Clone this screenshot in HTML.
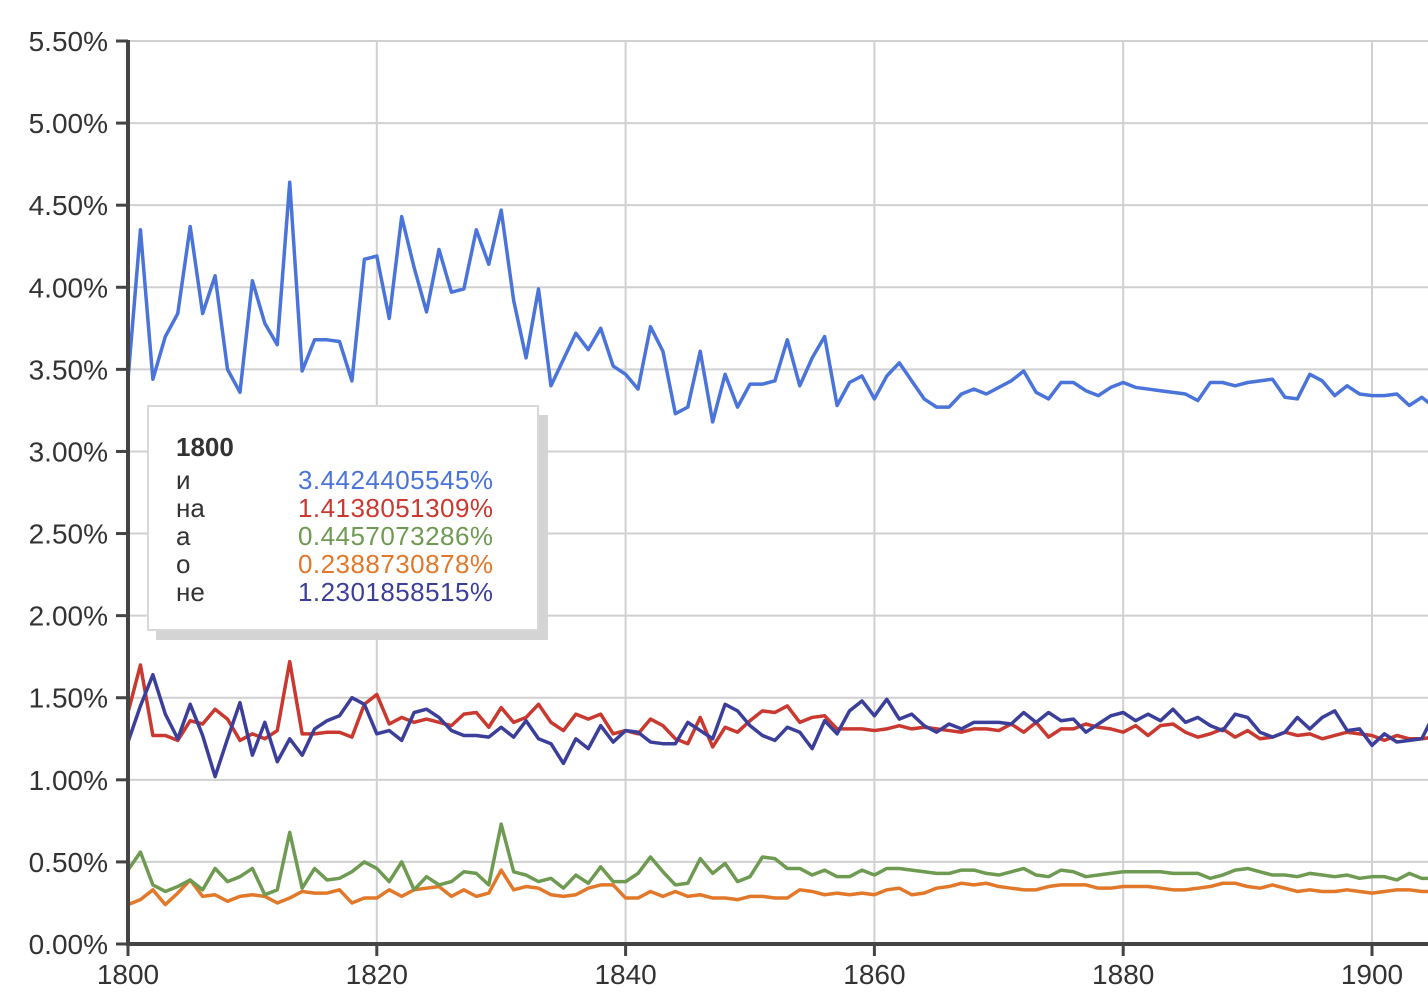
<!DOCTYPE html>
<html><head><meta charset="utf-8"><style>
body{margin:0;background:#fff;width:1428px;height:1006px;overflow:hidden;font-family:"Liberation Sans","Noto Sans CJK SC",sans-serif}
svg{display:block}
</style></head><body>
<svg id="chart" width="1428" height="1006" xmlns="http://www.w3.org/2000/svg">
<defs><clipPath id="plotclip"><rect x="128" y="30" width="1300" height="914"/></clipPath></defs>
<g id="grid"></g>
<g id="lines" clip-path="url(#plotclip)"></g>
<g id="axes"></g>
<g font-size="26">
<rect x="156" y="415" width="392" height="225" fill="#d4d4d4"/>
<rect x="148" y="406" width="390" height="224" fill="#fff" stroke="#d8d8d8" stroke-width="2"/>
<text x="176" y="456" font-weight="bold" fill="#333">1800</text>
<text x="176" y="489" fill="#333">и</text>
<text x="298" y="489" fill="#4a74d9" textLength="195">3.4424405545%</text>
<text x="176" y="517" fill="#333">на</text>
<text x="298" y="517" fill="#c9392f" textLength="195">1.4138051309%</text>
<text x="176" y="545" fill="#333">а</text>
<text x="298" y="545" fill="#6f9a52" textLength="195">0.4457073286%</text>
<text x="176" y="573" fill="#333">о</text>
<text x="298" y="573" fill="#e2782a" textLength="195">0.2388730878%</text>
<text x="176" y="601" fill="#333">не</text>
<text x="298" y="601" fill="#3b3f9a" textLength="195">1.2301858515%</text>
</g>
</svg>
<script>
const startYear = 1800;
const yTicks = [0,0.5,1,1.5,2,2.5,3,3.5,4,4.5,5,5.5];
const xTicks = [1800,1820,1840,1860,1880,1900];
const seriesI = [3.44,4.35,3.44,3.70,3.84,4.37,3.84,4.07,3.50,3.36,4.04,3.78,3.65,4.64,3.49,3.68,3.68,3.67,3.43,4.17,4.19,3.81,4.43,4.12,3.85,4.23,3.97,3.99,4.35,4.14,4.47,3.92,3.57,3.99,3.40,3.56,3.72,3.62,3.75,3.52,3.47,3.38,3.76,3.61,3.23,3.27,3.61,3.18,3.47,3.27,3.41,3.41,3.43,3.68,3.40,3.57,3.70,3.28,3.42,3.46,3.32,3.46,3.54,3.43,3.32,3.27,3.27,3.35,3.38,3.35,3.39,3.43,3.49,3.36,3.32,3.42,3.42,3.37,3.34,3.39,3.42,3.39,3.38,3.37,3.36,3.35,3.31,3.42,3.42,3.40,3.42,3.43,3.44,3.33,3.32,3.47,3.43,3.34,3.40,3.35,3.34,3.34,3.35,3.28,3.33,3.27];
const seriesNa = [1.41,1.70,1.27,1.27,1.24,1.36,1.34,1.43,1.37,1.24,1.28,1.25,1.30,1.72,1.28,1.28,1.29,1.29,1.26,1.46,1.52,1.34,1.38,1.35,1.37,1.35,1.33,1.40,1.41,1.32,1.44,1.35,1.38,1.46,1.35,1.30,1.40,1.37,1.40,1.28,1.30,1.28,1.37,1.33,1.25,1.22,1.38,1.20,1.32,1.29,1.36,1.42,1.41,1.45,1.35,1.38,1.39,1.31,1.31,1.31,1.30,1.31,1.33,1.31,1.32,1.31,1.30,1.29,1.31,1.31,1.30,1.34,1.29,1.35,1.26,1.31,1.31,1.34,1.32,1.31,1.29,1.33,1.27,1.33,1.34,1.29,1.26,1.28,1.31,1.26,1.30,1.25,1.26,1.29,1.27,1.28,1.25,1.27,1.29,1.28,1.27,1.24,1.27,1.25,1.25,1.26];
const seriesA = [0.45,0.56,0.36,0.32,0.35,0.39,0.33,0.46,0.38,0.41,0.46,0.30,0.33,0.68,0.34,0.46,0.39,0.40,0.44,0.50,0.46,0.38,0.50,0.33,0.41,0.36,0.38,0.44,0.43,0.36,0.73,0.44,0.42,0.38,0.40,0.34,0.42,0.37,0.47,0.38,0.38,0.43,0.53,0.44,0.36,0.37,0.52,0.43,0.49,0.38,0.41,0.53,0.52,0.46,0.46,0.42,0.45,0.41,0.41,0.45,0.42,0.46,0.46,0.45,0.44,0.43,0.43,0.45,0.45,0.43,0.42,0.44,0.46,0.42,0.41,0.45,0.44,0.41,0.42,0.43,0.44,0.44,0.44,0.44,0.43,0.43,0.43,0.40,0.42,0.45,0.46,0.44,0.42,0.42,0.41,0.43,0.42,0.41,0.42,0.40,0.41,0.41,0.39,0.43,0.40,0.40];
const seriesO = [0.24,0.27,0.33,0.24,0.31,0.39,0.29,0.30,0.26,0.29,0.30,0.29,0.25,0.28,0.32,0.31,0.31,0.33,0.25,0.28,0.28,0.33,0.29,0.33,0.34,0.35,0.29,0.33,0.29,0.31,0.45,0.33,0.35,0.34,0.30,0.29,0.30,0.34,0.36,0.36,0.28,0.28,0.32,0.29,0.32,0.29,0.30,0.28,0.28,0.27,0.29,0.29,0.28,0.28,0.33,0.32,0.30,0.31,0.30,0.31,0.30,0.33,0.34,0.30,0.31,0.34,0.35,0.37,0.36,0.37,0.35,0.34,0.33,0.33,0.35,0.36,0.36,0.36,0.34,0.34,0.35,0.35,0.35,0.34,0.33,0.33,0.34,0.35,0.37,0.37,0.35,0.34,0.36,0.34,0.32,0.33,0.32,0.32,0.33,0.32,0.31,0.32,0.33,0.33,0.32,0.32];
const seriesNe = [1.23,1.45,1.64,1.40,1.25,1.46,1.27,1.02,1.25,1.47,1.15,1.35,1.11,1.25,1.15,1.31,1.36,1.39,1.50,1.46,1.28,1.30,1.24,1.41,1.43,1.38,1.30,1.27,1.27,1.26,1.32,1.26,1.36,1.25,1.22,1.10,1.25,1.19,1.33,1.23,1.30,1.29,1.23,1.22,1.22,1.35,1.30,1.25,1.46,1.42,1.33,1.27,1.24,1.32,1.29,1.19,1.36,1.28,1.42,1.48,1.39,1.49,1.37,1.40,1.33,1.29,1.34,1.31,1.35,1.35,1.35,1.34,1.41,1.35,1.41,1.36,1.37,1.29,1.34,1.39,1.41,1.36,1.40,1.36,1.43,1.35,1.38,1.33,1.30,1.40,1.38,1.29,1.26,1.29,1.38,1.31,1.38,1.42,1.30,1.31,1.21,1.28,1.23,1.24,1.25,1.40];

const NS='http://www.w3.org/2000/svg';
const x = yr => 128 + (yr-1800)*12.44;
const y = v => 944 - v*(903/5.5);
const grid=document.getElementById('grid'), axes=document.getElementById('axes'), lines=document.getElementById('lines');
function mk(tag, attrs){const e=document.createElementNS(NS,tag);for(const k in attrs)e.setAttribute(k,attrs[k]);return e;}
yTicks.forEach(v=>{
  if(v>0){const g=mk('line',{x1:128,x2:1428,y1:y(v),y2:y(v),stroke:'#d0d0d0','stroke-width':2});
  
  
  grid.appendChild(g);}
  const t=mk('line',{x1:116,x2:128,y1:y(v),y2:y(v),stroke:'#444','stroke-width':3});
  
  
  axes.appendChild(t);
  const l=mk('text',{x:108,y:y(v)+10,'text-anchor':'end','font-size':28,fill:'#333'});
  
  
  l.textContent=v.toFixed(2)+'%';axes.appendChild(l);
});
xTicks.forEach(yr=>{
  if(yr>1800){const g=mk('line',{x1:x(yr),x2:x(yr),y1:41,y2:944,stroke:'#d0d0d0','stroke-width':2});
  
  
  grid.appendChild(g);}
  const t=mk('line',{x1:x(yr),x2:x(yr),y1:944,y2:956,stroke:'#444','stroke-width':3});
  
  
  axes.appendChild(t);
  const l=mk('text',{x:x(yr),y:984,'text-anchor':'middle','font-size':28,fill:'#333'});
  
  
  l.textContent=yr;axes.appendChild(l);
});
const ya=mk('line',{x1:128,x2:128,y1:40,y2:946,stroke:'#444','stroke-width':4});


axes.appendChild(ya);
const xa=mk('line',{x1:126,x2:1428,y1:944,y2:944,stroke:'#444','stroke-width':4});


axes.appendChild(xa);
const series=[[seriesO,'#e2782a','line-o'],[seriesA,'#6f9a52','line-a'],[seriesNa,'#c9392f','line-na'],[seriesNe,'#3b3f9a','line-ne'],[seriesI,'#4a74d9','line-i']];
series.forEach(([d,c,n])=>{
  const p=mk('polyline',{points:d.map((v,i)=>x(startYear+i)+','+y(v)).join(' '),fill:'none',stroke:c,'stroke-width':3.5,'stroke-linejoin':'round'});
  
  
  lines.appendChild(p);
});
</script>
</body></html>
